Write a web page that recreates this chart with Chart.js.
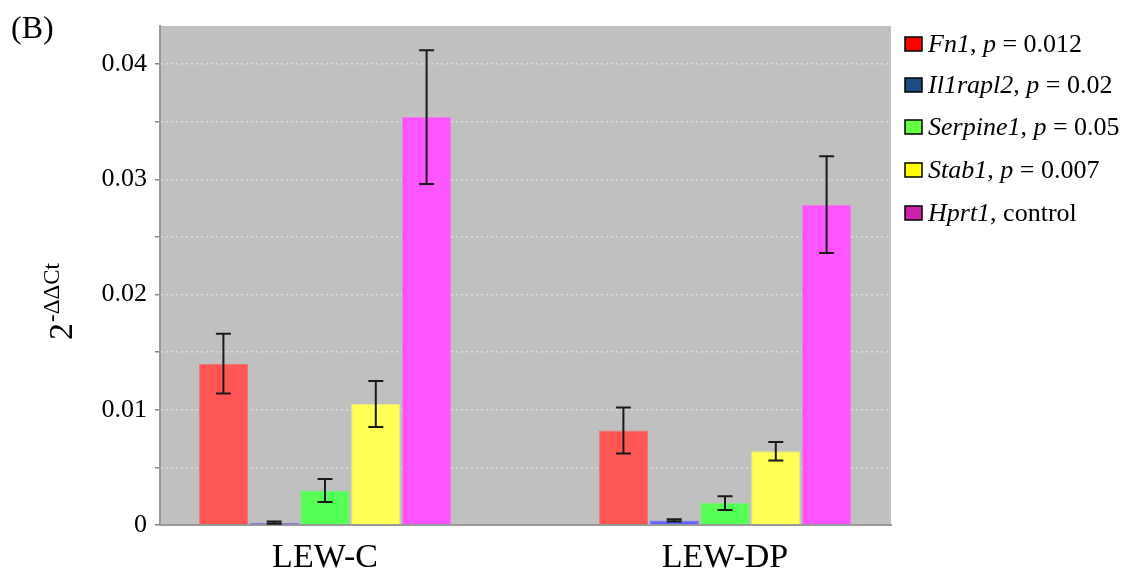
<!DOCTYPE html>
<html><head><meta charset="utf-8">
<script src="https://cdn.jsdelivr.net/npm/chart.js@4/dist/chart.umd.min.js"></script>
<style>html,body{margin:0;padding:0;background:#fff;}#wrap{width:1135px;height:582px;position:relative;}</style>
</head><body><div id="wrap"><canvas id="c" width="1135" height="582"></canvas></div>
<script>
// ---- data ----
const categories = ['LEW-C', 'LEW-DP'];
const geneNames = ['Fn1', 'Il1rapl2', 'Serpine1', 'Stab1', 'Hprt1'];
const pValues = ['0.012', '0.02', '0.05', '0.007', null];
const fn1 = [0.0140, 0.0082];
const il1rapl2 = [0.0002, 0.0004];
const serpine1 = [0.0030, 0.0019];
const stab1 = [0.0105, 0.0064];
const hprt1 = [0.0354, 0.0278];
const fn1Err = [0.0026, 0.0020];
const il1rapl2Err = [0.0001, 0.0001];
const serpine1Err = [0.0010, 0.0006];
const stab1Err = [0.0020, 0.0008];
const hprt1Err = [0.0058, 0.0042];
const yTickValues = [0, 0.005, 0.01, 0.015, 0.02, 0.025, 0.03, 0.035, 0.04];
const yTickLabels = ['0', '', '0.01', '', '0.02', '', '0.03', '', '0.04'];
const yMax = 0.0433;

// ---- styles ----
const barColors = ['#ff5555', '#5f5fff', '#55ff55', '#ffff55', '#ff55ff'];
const barBorders = ['#e87878', '#7f7fe8', '#7fe87f', '#e8e880', '#f07af0'];
const legendColors = ['#ff0000', '#1f4a82', '#66ff44', '#ffff00', '#cc22aa'];
const SERIF = '"Liberation Serif", "Times New Roman", serif';

const seriesValues = [fn1, il1rapl2, serpine1, stab1, hprt1];
const seriesErrors = [fn1Err, il1rapl2Err, serpine1Err, stab1Err, hprt1Err];

const datasets = geneNames.map((g, i) => ({
  label: g,
  data: seriesValues[i].map((v, k) => ({ x: k, y: v })),
  errors: seriesErrors[i],
  backgroundColor: barColors[i],
  borderColor: barBorders[i],
  borderWidth: 1,
  barPercentage: 0.97,
  categoryPercentage: 0.635
}));

const bgPlugin = {
  id: 'bg',
  beforeDraw(chart) {
    const { ctx, chartArea: a } = chart;
    ctx.save();
    ctx.fillStyle = '#c0c0c0';
    ctx.fillRect(a.left, a.top, a.right - a.left, a.bottom - a.top);
    ctx.restore();
  }
};

const errPlugin = {
  id: 'errbars',
  afterDatasetsDraw(chart) {
    const { ctx } = chart;
    const ys = chart.scales.y;
    ctx.save();
    ctx.strokeStyle = '#1a1a1a';
    ctx.lineWidth = 2;
    chart.data.datasets.forEach((ds, di) => {
      const meta = chart.getDatasetMeta(di);
      meta.data.forEach((bar, k) => {
        const v = ds.data[k].y, e = ds.errors[k];
        const x = bar.x;
        const yt = ys.getPixelForValue(v + e);
        const yb = ys.getPixelForValue(v - e);
        const hw = 7.5;
        ctx.beginPath();
        ctx.moveTo(x, yt); ctx.lineTo(x, yb);
        ctx.moveTo(x - hw, yt); ctx.lineTo(x + hw, yt);
        ctx.moveTo(x - hw, yb); ctx.lineTo(x + hw, yb);
        ctx.stroke();
      });
    });
    ctx.restore();
  }
};

const textPlugin = {
  id: 'texts',
  afterDraw(chart) {
    const { ctx } = chart;
    ctx.save();
    ctx.fillStyle = '#000';
    // panel label
    ctx.font = '32px ' + SERIF;
    ctx.textBaseline = 'alphabetic';
    ctx.textAlign = 'left';
    ctx.fillText('(B)', 11, 38);
    // y axis title
    ctx.save();
    ctx.translate(72, 340);
    ctx.rotate(-Math.PI / 2);
    ctx.font = '34px ' + SERIF;
    ctx.fillText('2', 0, 0);
    const w2 = ctx.measureText('2').width;
    ctx.font = '23px ' + SERIF;
    ctx.fillText('-ΔΔCt', w2 + 1, -13);
    ctx.restore();
    // legend
    const rowY = [44, 85, 127, 170, 213];
    const fs = 26;
    chart.data.datasets.forEach((ds, i) => {
      const cy = rowY[i];
      ctx.fillStyle = legendColors[i];
      ctx.fillRect(905, cy - 7, 17, 14);
      ctx.strokeStyle = '#000';
      ctx.lineWidth = 1.5;
      ctx.strokeRect(905, cy - 7, 17, 14);
      ctx.fillStyle = '#000';
      const segs = pValues[i] !== null
        ? [[geneNames[i], true], [', ', false], ['p', true], [' = ' + pValues[i], false]]
        : [[geneNames[i], true], [', control', false]];
      let x = 928;
      const by = cy + 8;
      segs.forEach(([t, it]) => {
        ctx.font = (it ? 'italic ' : '') + fs + 'px ' + SERIF;
        ctx.fillText(t, x, by);
        x += ctx.measureText(t).width;
      });
    });
    ctx.restore();
  }
};

new Chart(document.getElementById('c'), {
  type: 'bar',
  data: { datasets },
  options: {
    responsive: false,
    animation: false,
    layout: { padding: { top: 26, right: 244, left: 0, bottom: 0 } },
    plugins: { legend: { display: false }, tooltip: { enabled: false } },
    scales: {
      x: {
        type: 'linear',
        offset: false,
        min: -0.4125,
        max: 1.415,
        afterBuildTicks: s => { s.ticks = categories.map((c, k) => ({ value: k })); },
        afterFit: s => { s.height = 57; },
        ticks: {
          callback: (v, idx) => categories[idx],
          font: { family: SERIF, size: 34 },
          color: '#000',
          padding: 13,
          maxRotation: 0
        },
        grid: { display: false, drawTicks: false, offset: false },
        border: { display: true, color: '#999', width: 2 }
      },
      y: {
        min: 0,
        max: yMax,
        afterBuildTicks: s => { s.ticks = yTickValues.map(v => ({ value: v })); },
        afterFit: s => { s.width = 160; },
        ticks: {
          callback: (v, idx) => yTickLabels[idx],
          font: { family: SERIF, size: 26 },
          color: '#000',
          padding: 8,
          autoSkip: false
        },
        grid: {
          color: '#dcdcdc',
          lineWidth: 1.5,
          tickColor: '#8a8a8a',
          tickLength: 5,
          tickWidth: 1.5
        },
        border: { display: true, color: '#999', width: 2, dash: [2, 3] }
      }
    }
  },
  plugins: [bgPlugin, errPlugin, textPlugin]
});
</script>
</body></html>
